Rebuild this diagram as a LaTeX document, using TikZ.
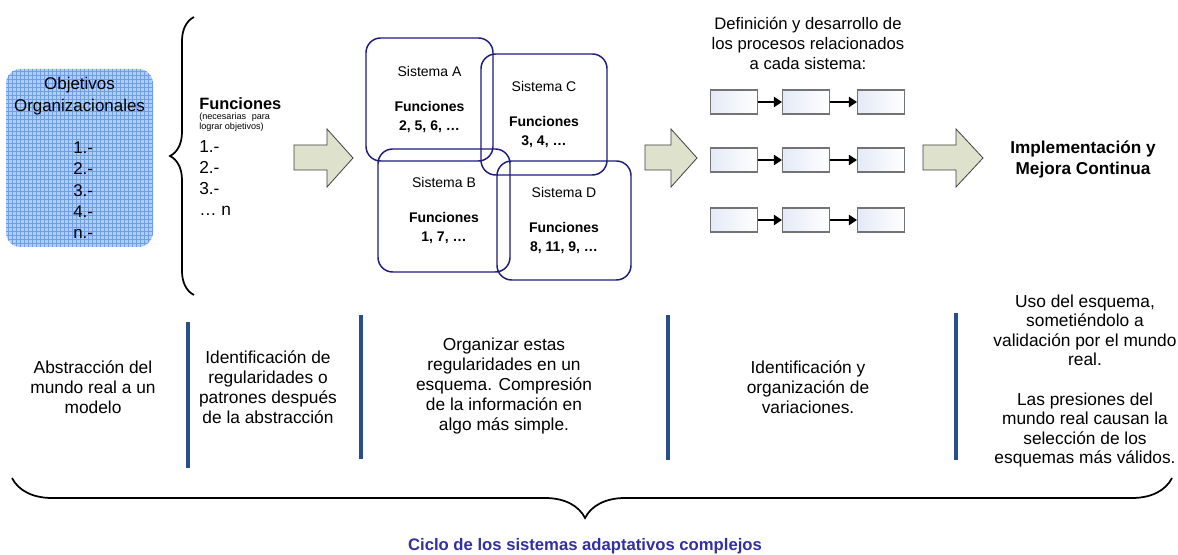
\documentclass[tikz,border=0pt]{standalone}
\usepackage{fontspec}
\setmainfont{Liberation Sans}
\usetikzlibrary{arrows.meta, decorations.pathreplacing, patterns, positioning}

\definecolor{gridfill}{RGB}{176,206,248}
\definecolor{gridline}{RGB}{110,156,238}
\definecolor{sysblue}{RGB}{28,28,128}
\definecolor{sepblue}{RGB}{40,78,140}
\definecolor{arrowfill}{RGB}{222,226,204}
\definecolor{procfill}{RGB}{228,234,246}
\definecolor{capblue}{RGB}{48,48,160}

\begin{document}
\begin{tikzpicture}[x=0.75pt, y=-0.75pt,
    txt/.style={align=center, inner sep=0pt, font=\fontsize{13}{15}\selectfont},
    systxt/.style={sysbox, align=center, font=\fontsize{10.5}{14}\selectfont},
    sysbox/.style={draw=sysblue, line width=1.1pt, rounded corners=11pt, inner sep=0pt},
    objbox/.style={rounded corners=11pt, pattern=grid, pattern color=gridline, preaction={fill=gridfill}},
    procbox/.style={draw=black!55, line width=0.8pt, left color=procfill, right color=white,
                    minimum width=35.25pt, minimum height=18pt, inner sep=0pt},
    procarrow/.style={line width=1.8pt, -{Triangle[length=6pt,width=7.5pt]}},
    bigarrow/.style={draw=black!75, line width=0.6pt, fill=arrowfill},
    sepline/.style={draw=sepblue, line width=2.4pt}]
\useasboundingbox (0,0) rectangle (1178,555);

% objetivos
\node[objbox, minimum width=110.25pt, minimum height=133.5pt] (obj) at (79.5,158) {};
\node[txt, font=\fontsize{12.7}{16.5}\selectfont] (objtitle) at (79.5,96) {Objetivos\\Organizacionales};
\node[txt, anchor=west, align=left, font=\fontsize{12.7}{16}\selectfont] (objlist) at (73,190.5) {1.-\\2.-\\3.-\\4.-\\n.-};

% llave y funciones
\draw[decorate, decoration={brace, amplitude=18pt}, line width=1.3pt] (194,295) -- (194,17);
\node[txt, anchor=west, font=\bfseries\fontsize{12.3}{15}\selectfont] (fun) at (199,104) {Funciones};
\node[txt, anchor=west, align=left, font=\fontsize{6.8}{7.5}\selectfont] (funnote) at (199,122)
    {\parbox{53pt}{(necesarias\hfill para\\lograr objetivos)}};
\node[txt, anchor=west, align=left, font=\fontsize{13}{15.75}\selectfont] (funlist) at (199,178.5) {1.-\\2.-\\3.-\\… n};

% flechas grandes
\foreach \xa/\xb/\xc in {294/327/353, 645/671/697, 923/956/983}
    \draw[bigarrow] (\xa,145) -- (\xb,145) -- (\xb,129) -- (\xc,158) -- (\xb,187) -- (\xb,170) -- (\xa,170) -- cycle;

% sistemas
\node[systxt, minimum width=95.25pt, minimum height=92.25pt] (sysA) at (429.5,99.5)
    {Sistema A\\[12pt]\textbf{Funciones}\\\textbf{2, 5, 6, …}};
\node[systxt, minimum width=94.5pt, minimum height=90.75pt] (sysC) at (544,114.5)
    {Sistema C\\[12pt]\textbf{Funciones}\\\textbf{3, 4, …}};
\node[systxt, minimum width=99pt, minimum height=92.25pt] (sysB) at (444,210.5)
    {Sistema B\\[12pt]\textbf{Funciones}\\\textbf{1, 7, …}};
\node[systxt, minimum width=100.5pt, minimum height=89.25pt] (sysD) at (564,220.5)
    {Sistema D\\[12pt]\textbf{Funciones}\\\textbf{8, 11, 9, …}};

% procesos
\node[txt, font=\fontsize{12.5}{15}\selectfont] (proctitle) at (808,43)
    {Definición y desarrollo de\\los procesos relacionados\\a cada sistema:};
\foreach \r/\y in {1/102, 2/160, 3/220} {
    \node[procbox] (p\r1) at (734,\y) {};
    \node[procbox] (p\r2) at (806,\y) {};
    \node[procbox] (p\r3) at (881,\y) {};
    \draw[procarrow] (p\r1) -- (p\r2);
    \draw[procarrow] (p\r2) -- (p\r3);
}

\node[txt, font=\bfseries\fontsize{12.9}{15.75}\selectfont] (impl) at (1083,159.5) {Implementación y\\Mejora Continua};

% separadores
\draw[sepline] (188,322) -- (188,468);
\draw[sepline] (361,315) -- (361,459);
\draw[sepline] (668,315) -- (668,460);
\draw[sepline] (956,313) -- (956,460);

% textos de abajo
\node[txt] (abs) at (93,387) {Abstracción del\\mundo real a un\\modelo};
\node[txt] (reg) at (268,387) {Identificación de\\regularidades o\\patrones después\\de la abstracción};
\node[txt] (orga) at (504,386) {Organizar estas\\regularidades en un\\esquema. Compresión\\de la información en\\algo más simple.};
\node[txt] (var) at (808,387) {Identificación y\\organización de\\variaciones.};
\node[txt, font=\fontsize{13}{14.7}\selectfont] (uso) at (1085,381)
    {Uso del esquema,\\sometiéndolo a\\validación por el mundo\\real.\\[14.7pt]Las presiones del\\mundo real causan la\\selección de los\\esquemas más válidos.};

% ciclo
\draw[decorate, decoration={brace, mirror, amplitude=30pt, aspect=0.494}, line width=1.3pt] (12,478) -- (1172,478);
\node[txt, text=capblue, font=\bfseries\fontsize{12.5}{15}\selectfont] (ciclo) at (585,546) {Ciclo de los sistemas adaptativos complejos};

\end{tikzpicture}
\end{document}
